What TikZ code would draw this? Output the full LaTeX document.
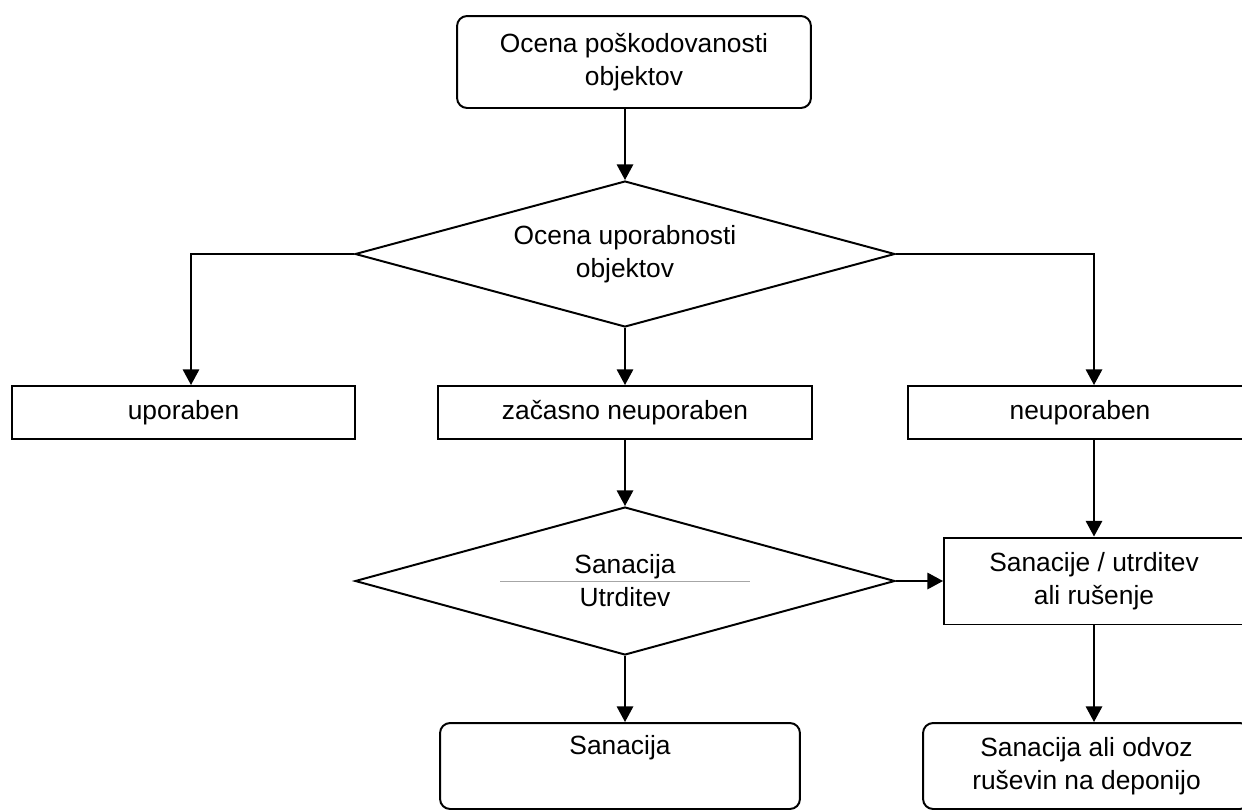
\documentclass[tikz,border=0pt]{standalone}
\usepackage{fontspec}
\setmainfont{Liberation Sans}
\usepackage{tikz}
\usetikzlibrary{shapes.geometric, arrows.meta, positioning}
\tikzstyle{arrow} = [line width=1pt,-{Triangle[length=0.25cm,width=0.26cm]}]

\begin{document}
\begin{tikzpicture}[
    x=0.016cm, y=-0.016cm,
    every node/.style={draw, line width=0.9pt, align=center, inner sep=0pt, font=\fontsize{12}{15}\selectfont},
    roundbox/.style={rounded corners=0.16cm},
    decision/.style={diamond, aspect=3.7},
    sepline/.style={gray!70, line width=0.3pt}
]
\clip (0,0) rectangle (1242,810);

% Nodes
\node (start) [roundbox, minimum width=5.664cm, minimum height=1.472cm] at (634,62) {Ocena poškodovanosti\\objektov};
\node (use) [decision, minimum width=8.64cm, minimum height=2.336cm] at (625,254) {Ocena uporabnosti\\objektov};
\node (uporab) [minimum width=5.488cm, minimum height=0.848cm] at (183.5,412.5) {uporaben};
\node (zac) [minimum width=6cm, minimum height=0.848cm] at (625,412.5) {začasno neuporaben};
\node (neup) [minimum width=5.504cm, minimum height=0.848cm] at (1080,412.5) {neuporaben};
\node (san) [decision, minimum width=8.64cm, minimum height=2.368cm] at (625,581) {Sanacija\\Utrditev};
\node (sanut) [minimum width=4.8cm, minimum height=1.392cm] at (1094,581) {Sanacije / utrditev\\ali rušenje};
\node (sanac) [roundbox, minimum width=5.76cm, minimum height=1.376cm] at (620,766) {Sanacija\\\strut};
\node (odvoz) [roundbox, minimum width=5.232cm, minimum height=1.376cm] at (1086.5,766) {Sanacija ali odvoz\\ruševin na deponijo};
\coordinate (lturn) at (191,254);
\coordinate (rturn) at (1094,254);

% separator in the decision
\draw [sepline] ([xshift=-2cm]san.center) -- ([xshift=2cm]san.center);

% Arrows
\draw [arrow] (start.south -| use.north) -- (use.north);
\draw [arrow] (use.west) -- (lturn) -- (lturn |- uporab.north);
\draw [arrow] (use.east) -- (rturn) -- (rturn |- neup.north);
\draw [arrow] (use.south) -- (zac.north);
\draw [arrow] (zac.south) -- (san.north);
\draw [arrow] (san.east) -- (sanut.west);
\draw [arrow] (neup.south -| sanut.north) -- (sanut.north);
\draw [arrow] (sanut.south) -- (sanut.south |- odvoz.north);
\draw [arrow] (san.south) -- (san.south |- sanac.north);

\end{tikzpicture}
\end{document}
